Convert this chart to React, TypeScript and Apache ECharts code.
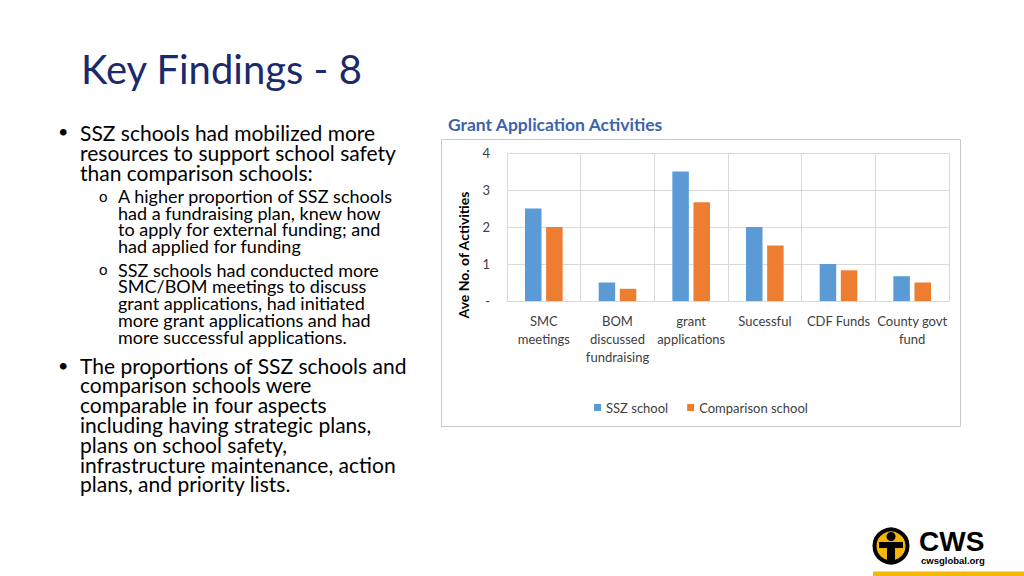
import React, { useEffect, useRef } from "react";
import * as echarts from "echarts";

const categories = [
  "SMC\nmeetings",
  "BOM\ndiscussed\nfundraising",
  "grant\napplications",
  "Sucessful",
  "CDF Funds",
  "County govt\nfund",
];
const sszSchool = [2.5, 0.5, 3.5, 2.0, 1.0, 0.67];
const comparisonSchool = [2.0, 0.33, 2.67, 1.5, 0.83, 0.5];
const seriesNames = ["SSZ school", "Comparison school"];
const yTicks = [0, 1, 2, 3, 4];

const slideTitle = "Key Findings - 8";
const chartTitle = "Grant Application Activities";
const yAxisName = "Ave No. of Activities";

const bullet1 = [
  "SSZ schools had mobilized more",
  "resources to support school safety",
  "than comparison schools:",
];
const sub1 = [
  "A higher proportion of SSZ schools",
  "had a fundraising plan, knew how",
  "to apply for external funding; and",
  "had applied for funding",
];
const sub2 = [
  "SSZ schools had conducted more",
  "SMC/BOM meetings to discuss",
  "grant applications, had initiated",
  "more grant applications and had",
  "more successful applications.",
];
const bullet2 = [
  "The proportions of SSZ schools and",
  "comparison schools were",
  "comparable in four aspects",
  "including having strategic plans,",
  "plans on school safety,",
  "infrastructure maintenance, action",
  "plans, and priority lists.",
];

const FONT = "Lato, 'Open Sans', sans-serif";

function lines(arr: string[], x: number, y0: number, step: number, size: number) {
  return arr.map((t, i) => ({
    type: "text",
    x,
    y: y0 + i * step,
    style: {
      text: t,
      fontSize: size,
      lineHeight: step,
      fontFamily: FONT,
      fill: "#000",
      verticalAlign: "middle",
      align: "left",
    },
  }));
}

export default function App() {
  const ref = useRef<HTMLDivElement>(null);
  useEffect(() => {
    if (!ref.current) return;
    const chart = echarts.init(ref.current, undefined, { renderer: "svg" });
    const graphics: any[] = [
      { type: "rect", shape: { x: 441.5, y: 139.5, width: 519, height: 287 }, style: { fill: "#fff", stroke: "#C9C9C9", lineWidth: 1 }, z: -10 },
      {
        type: "text", x: 81, y: 69,
        style: { text: slideTitle, fontSize: 40, fontFamily: FONT, fill: "#1B2A6B", verticalAlign: "middle" },
      },
      {
        type: "text", x: 448, y: 124,
        style: { text: chartTitle, fontSize: 17.5, fontWeight: "bold", fontFamily: FONT, fill: "#3C64AC", verticalAlign: "middle" },
      },
      {
        type: "text", x: 463, y: 255, rotation: Math.PI / 2,
        style: { text: yAxisName, fontSize: 14, fontWeight: "bold", fontFamily: FONT, fill: "#000", align: "center", verticalAlign: "middle" },
      },
      { type: "text", x: 58, y: 131, style: { text: "•", fontSize: 18, fontFamily: FONT, fill: "#000", verticalAlign: "middle" } },
      { type: "text", x: 58, y: 365, style: { text: "•", fontSize: 18, fontFamily: FONT, fill: "#000", verticalAlign: "middle" } },
      { type: "text", x: 99, y: 196, style: { text: "o", fontSize: 15, fontFamily: FONT, fill: "#000", verticalAlign: "middle" } },
      { type: "text", x: 99, y: 269, style: { text: "o", fontSize: 15, fontFamily: FONT, fill: "#000", verticalAlign: "middle" } },
      ...lines(bullet1, 80, 132, 20, 21),
      ...lines(sub1, 118, 196, 16.7, 18),
      ...lines(sub2, 118, 269.5, 16.8, 18),
      ...lines(bullet2, 80, 365, 19.8, 21),
      // logo
      { type: "circle", shape: { cx: 891, cy: 546, r: 16.5 }, style: { fill: "#F5B50A", stroke: "#000", lineWidth: 4 } },
      { type: "circle", shape: { cx: 891, cy: 536.5, r: 4.5 }, style: { fill: "#000" } },
      { type: "rect", shape: { x: 879, y: 542, width: 24, height: 6 }, style: { fill: "#000" } },
      { type: "rect", shape: { x: 887, y: 546, width: 8, height: 16 }, style: { fill: "#000" } },
      { type: "text", x: 919, y: 541, style: { text: "CWS", fontSize: 28, fontWeight: 900, fontFamily: "'Liberation Sans', Arial, sans-serif", fill: "#000", verticalAlign: "middle" } },
      { type: "text", x: 921, y: 560, style: { text: "cwsglobal.org", fontSize: 9.5, fontWeight: "bold", fontFamily: "'Liberation Sans', Arial, sans-serif", fill: "#000", verticalAlign: "middle" } },
      { type: "rect", shape: { x: 873, y: 571.5, width: 151, height: 4.5 }, style: { fill: "#F5B800" } },
    ];

    chart.setOption({
      animation: false,
      backgroundColor: "#fff",
      textStyle: { fontFamily: FONT },
      graphic: graphics,
      grid: { left: 507, right: 75, top: 153, bottom: 275 },
      legend: {
        left: 589,
        top: 396,
        itemWidth: 7,
        itemHeight: 7,
        itemGap: 19,
        icon: "rect",
        textStyle: { fontSize: 13, color: "#404040", fontFamily: FONT },
        data: seriesNames,
      },
      xAxis: {
        type: "category",
        data: categories,
        axisLine: { show: true, lineStyle: { color: "#D9D9D9" } },
        axisTick: { show: false },
        splitLine: { show: true, lineStyle: { color: "#D9D9D9" } },
        axisLabel: { fontSize: 13, color: "#404040", lineHeight: 18, margin: 11, interval: 0, fontFamily: FONT },
      },
      yAxis: {
        type: "value",
        min: yTicks[0],
        max: yTicks[yTicks.length - 1],
        interval: 1,
        axisLine: { show: false },
        axisTick: { show: false },
        splitLine: { lineStyle: { color: "#D9D9D9" } },
        axisLabel: {
          fontSize: 13,
          color: "#404040",
          margin: 17,
          fontFamily: FONT,
          formatter: (v: number) => (v === 0 ? "-" : String(v)),
        },
      },
      series: [
        { name: seriesNames[0], type: "bar", data: sszSchool, barWidth: 16.5, barGap: "28%", itemStyle: { color: "#5B9BD5" } },
        { name: seriesNames[1], type: "bar", data: comparisonSchool, barWidth: 16.5, barGap: "28%", itemStyle: { color: "#ED7D31" } },
      ],
    });
    return () => chart.dispose();
  }, []);
  return <div ref={ref} style={{ position: "fixed", left: 0, top: 0, width: 1024, height: 576 }} />;
}
